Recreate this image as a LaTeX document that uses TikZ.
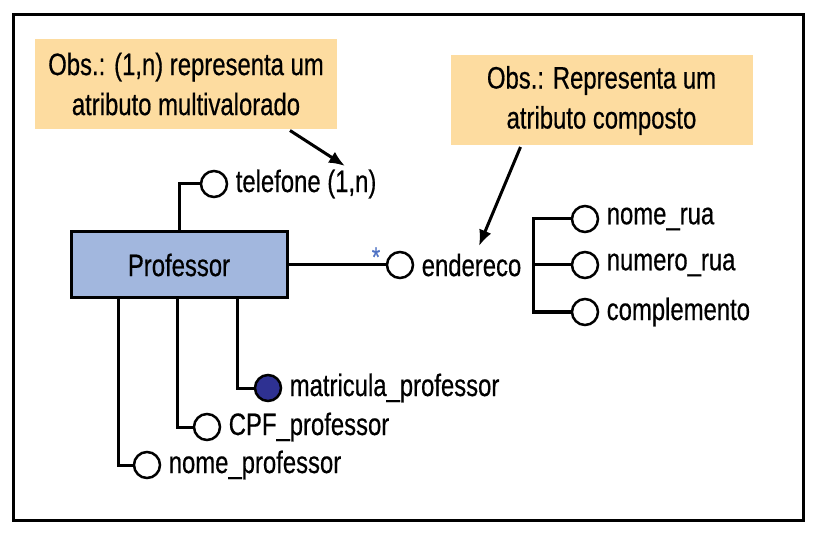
\documentclass[tikz,border=0pt]{standalone}
\usepackage{fontspec}
\setmainfont[FakeStretch=0.77,FakeBold=0.5]{Liberation Sans}
\usetikzlibrary{arrows.meta}
\definecolor{notefill}{RGB}{253,220,160}
\definecolor{entfill}{RGB}{162,183,222}
\definecolor{keyfill}{RGB}{46,49,146}
\definecolor{astblue}{RGB}{79,114,196}
\begin{document}
\begin{tikzpicture}[x=1pt,y=-1pt,line width=3pt,
  every node/.style={font=\fontsize{31}{40}\selectfont},
  note/.style={fill=notefill,minimum width=302pt,minimum height=90pt,align=center,inner sep=0pt},
  entity/.style={draw,fill=entfill,minimum width=216pt,minimum height=66pt,inner sep=0pt},
  attr/.style={circle,draw,fill=white,minimum size=26pt,inner sep=0pt,line width=2.5pt},
  keyattr/.style={attr,fill=keyfill},
  every label/.style={inner sep=1pt,xshift=5pt,font=\fontsize{31}{40}\selectfont},
  obs/.style={-{Latex[length=16pt,width=13pt]}}]
\useasboundingbox (0,0) rectangle (813,534);
\draw (13,15) rectangle (803,520);
% notes
\node[note] (obs1) at (186,84) {Obs.: (1,n) representa um\\atributo multivalorado};
\node[note] (obs2) at (601.5,100.5) {Obs.: Representa um\\atributo composto};
% entity and attributes
\node[entity] (prof) at (179,265) {Professor};
\node[attr,label=right:{telefone (1,n)}] (tel) at (214,184) {};
\node[attr,label=right:endereco] (end) at (400,265) {};
\node[attr,label=right:nome\_rua] (rua) at (585,219) {};
\node[attr,label=right:numero\_rua] (num) at (585,265) {};
\node[attr,label=right:complemento] (comp) at (585,312) {};
\node[keyattr,label=right:matricula\_professor] (mat) at (268,388) {};
\node[attr,label=right:CPF\_professor] (cpf) at (207,427) {};
\node[attr,label=right:nome\_professor] (nome) at (147,465) {};
\node[text=astblue,font=\fontsize{28}{28}\selectfont] (ast) at (376,257) {*};
\coordinate (br) at (533,265);
\coordinate (tip1) at (345,166);
\coordinate (tip2) at (479,246);
% connectors
\draw (prof.north) |- (tel);
\draw (prof) -- (end);
\draw (rua) -| (br) |- (comp);
\draw (br) -- (num);
\draw ([xshift=58pt]prof.south) |- (mat);
\draw ([xshift=-2pt]prof.south) |- (cpf);
\draw ([xshift=-61pt]prof.south) |- (nome);
\draw[obs] ([xshift=104pt]obs1.south) -- (tip1);
\draw[obs] ([xshift=-81pt]obs2.south) -- (tip2);
\end{tikzpicture}
\end{document}
